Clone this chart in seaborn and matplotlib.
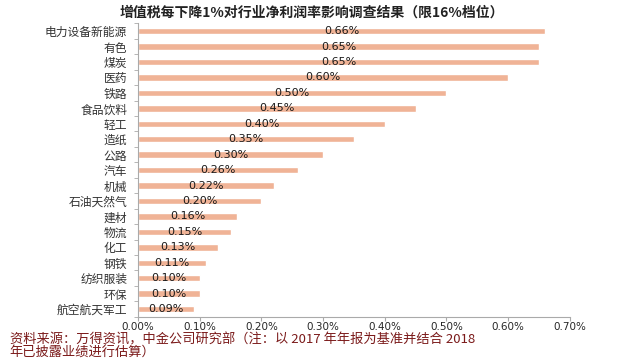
import numpy as np
import pandas as pd
import matplotlib
matplotlib.use('Agg')
import matplotlib.pyplot as plt
import seaborn as sns
from matplotlib.ticker import FuncFormatter, FixedLocator

industries = ['电力设备新能源', '有色', '煤炭', '医药', '铁路', '食品饮料', '轻工', '造纸',
              '公路', '汽车', '机械', '石油天然气', '建材', '物流', '化工', '钢铁',
              '纺织服装', '环保', '航空航天军工']
impact = [0.66, 0.65, 0.65, 0.60, 0.50, 0.45, 0.40, 0.35, 0.30, 0.26, 0.22, 0.20,
          0.16, 0.15, 0.13, 0.11, 0.10, 0.10, 0.09]
x_ticks = [0.0, 0.1, 0.2, 0.3, 0.4, 0.5, 0.6, 0.7]

df = pd.DataFrame({'industry': industries, 'impact': impact})

sns.set_style('white')
plt.rcParams['font.family'] = ['Noto Sans CJK SC', 'DejaVu Sans']

fig = plt.figure(figsize=(6.4, 3.6), dpi=100)
ax = fig.add_axes([0.216, 0.12, 0.674, 0.815])
sns.barplot(data=df, y='industry', x='impact', orient='h', color='#F0B396',
            saturation=1, width=0.42, ax=ax)

for i, v in enumerate(impact):
    ax.text(v / 2, i, f'{v:.2f}%', ha='center', va='center',
            fontsize=8, color='#1a1a1a', family='DejaVu Sans')

ax.set_xlim(0, 0.7)
ax.set_ylim(len(industries) - 0.5, -0.5)
ax.set_xticks(x_ticks)
ax.xaxis.set_major_formatter(FuncFormatter(lambda v, p: f'{v:.2f}%'))
for lab in ax.get_xticklabels():
    lab.set_family('DejaVu Sans')
ax.tick_params(axis='x', labelsize=7.5, length=3, color='#aaaaaa', direction='out',
               bottom=True, pad=1)
ax.tick_params(axis='y', labelsize=8.5, length=0, pad=8, labelcolor='#333333')
ax.yaxis.set_minor_locator(FixedLocator(np.arange(-0.5, len(industries), 1)))
ax.tick_params(axis='y', which='minor', length=3, color='#aaaaaa', left=True)
for s in ['top', 'right']:
    ax.spines[s].set_visible(False)
for s in ['left', 'bottom']:
    ax.spines[s].set_color('#aaaaaa')
    ax.spines[s].set_linewidth(0.8)
ax.set_xlabel('')
ax.set_ylabel('')

fig.text(0.487, 0.965, '增值税每下降1%对行业净利润率影响调查结果（限16%档位）',
         ha='center', va='center', fontsize=10, fontweight='bold', color='#222222')
fig.text(0.015, 0.057, '资料来源：万得资讯，中金公司研究部（注：以 2017 年年报为基准并结合 2018',
         ha='left', va='center', fontsize=9.5, color='#7B1A1A', style='italic')
fig.text(0.015, 0.019, '年已披露业绩进行估算）',
         ha='left', va='center', fontsize=9.5, color='#7B1A1A', style='italic')

fig.savefig('out.png', dpi=100)
